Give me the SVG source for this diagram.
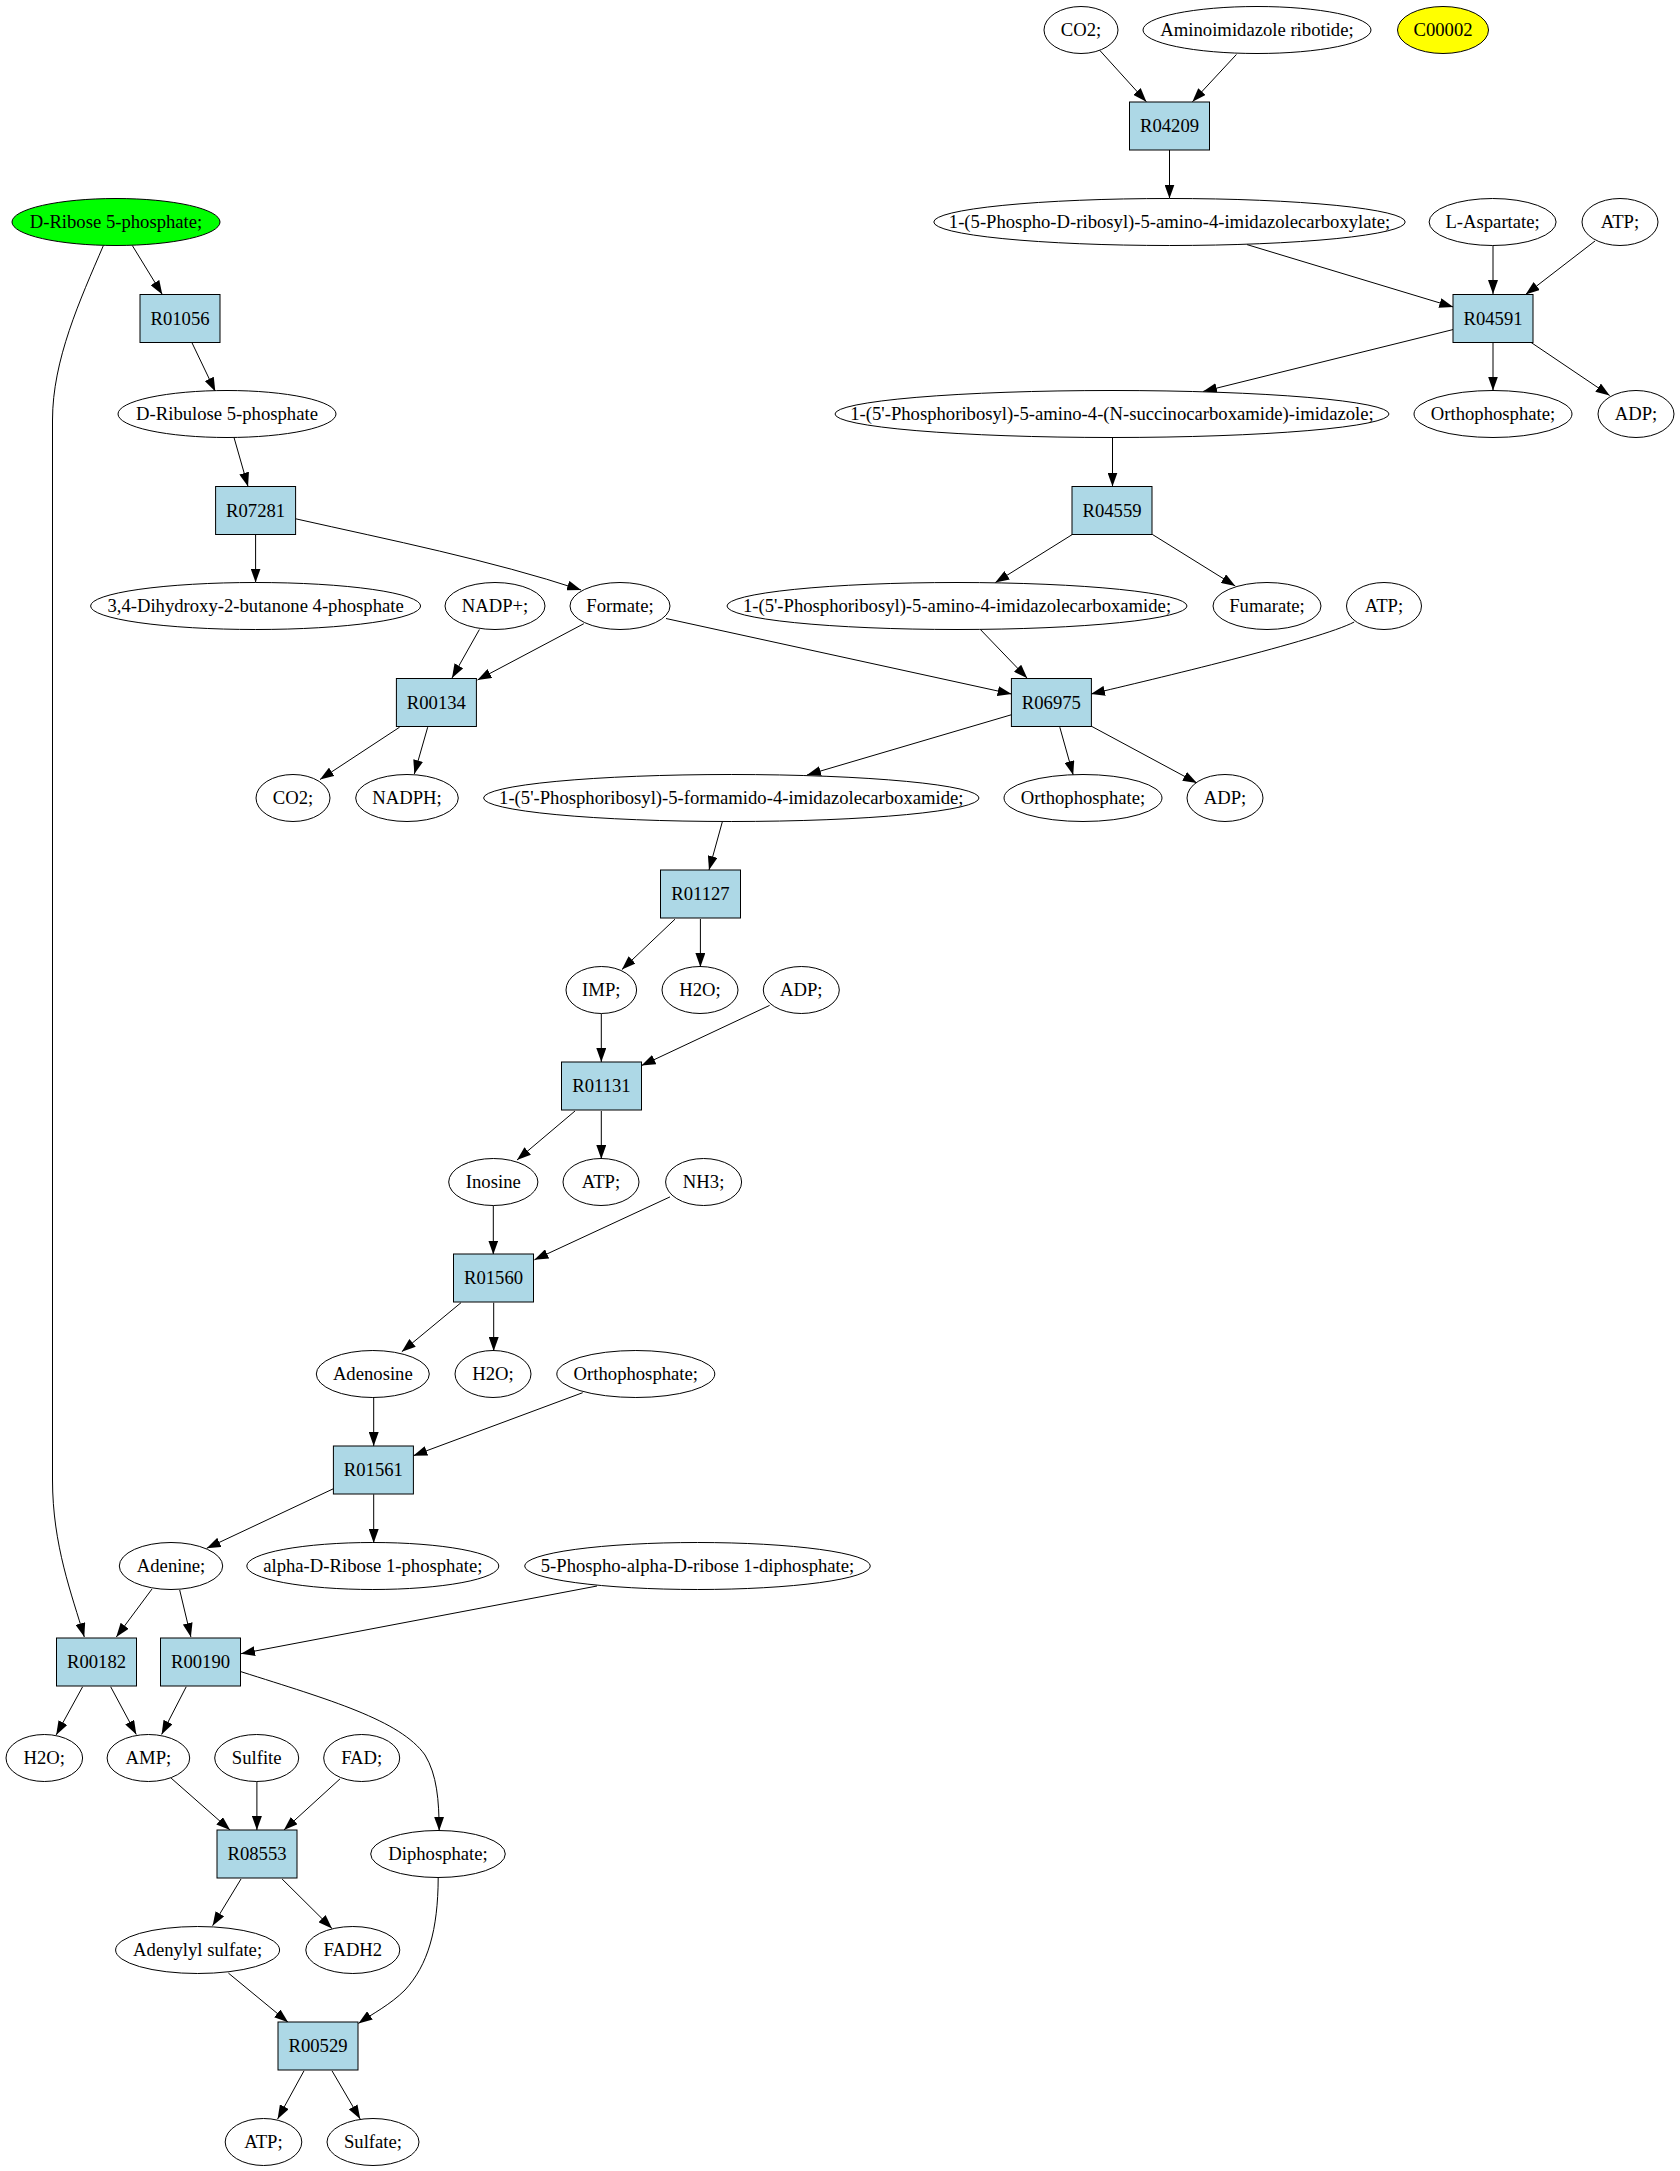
<svg xmlns="http://www.w3.org/2000/svg" width="1680" height="2171" viewBox="0 0 1680 2171">
<style>
.e{fill:#fff;stroke:#000;stroke-width:1}
.r{fill:#add8e6;stroke:#000;stroke-width:1}
.g{fill:#00ff00;stroke:#000;stroke-width:1}
.y{fill:#ffff00;stroke:#000;stroke-width:1}
text{font-family:"Liberation Serif","Times New Roman",serif;font-size:18.67px;text-anchor:middle;fill:#000}
#edges path{fill:none;stroke:#000;stroke-width:1;marker-end:url(#ah)}
</style>
<defs>
<marker id="ah" markerUnits="userSpaceOnUse" markerWidth="14" markerHeight="10" viewBox="0 0 14 10" refX="14" refY="5" orient="auto"><path d="M0,0 L14,5 L0,10 z" fill="#000"/></marker>
</defs>
<rect width="1680" height="2171" fill="#fff"/>
<g id="edges">
<path d="M1099.8,50.4 L1146.4,101.8"/>
<path d="M1236.4,54.5 L1192.4,101.8"/>
<path d="M1169.5,150 L1169.5,198.5"/>
<path d="M1247,244.6 L1453.3,307"/>
<path d="M1493,245.5 L1493,294"/>
<path d="M1595,241 L1525.6,294.5"/>
<path d="M1453.3,329.5 L1203,391.5"/>
<path d="M1493,342 L1493,390.5"/>
<path d="M1531,342.4 L1609.7,395.5"/>
<path d="M1112.5,437.5 L1112.5,486.5"/>
<path d="M1072.5,534.4 L995.3,582.6"/>
<path d="M1152.3,534.4 L1235.3,586"/>
<path d="M132.3,245.5 L162.3,294.5"/>
<path d="M103.4,245.5 C80,300 52.5,360 52.5,420 L52.5,1480 C52.5,1545 72,1595 84.3,1637"/>
<path d="M191.8,342.4 L215.3,391.5"/>
<path d="M234,437.5 L248,486.5"/>
<path d="M255.6,534 L255.6,582.5"/>
<path d="M295.7,518.8 C390,540 490,560 581.1,590"/>
<path d="M479.4,629.5 L452,678"/>
<path d="M583.8,623.7 L477.5,680"/>
<path d="M666,618.5 L1011.6,694"/>
<path d="M980.4,629.5 L1027.3,678.3"/>
<path d="M1354.2,622 C1320,640 1150,680 1091,694"/>
<path d="M399.6,727.2 L320,779.5"/>
<path d="M427.7,727.2 L414.3,774"/>
<path d="M1011.6,714.7 L807,775"/>
<path d="M1059.8,727.2 L1073.2,775"/>
<path d="M1091,726 L1196.9,783"/>
<path d="M722.3,821.9 L709,870"/>
<path d="M675,919.2 L621.9,969.6"/>
<path d="M700.4,919 L700.4,967"/>
<path d="M601.3,1013.8 L601.3,1062"/>
<path d="M769.6,1005.4 L641.5,1065.6"/>
<path d="M575,1111 L517,1160"/>
<path d="M601.3,1111 L601.3,1159"/>
<path d="M493.3,1205.8 L493.3,1254.5"/>
<path d="M670,1196.9 L534.4,1259.8"/>
<path d="M461,1302.7 L401.8,1351.7"/>
<path d="M493.7,1302.7 L493.7,1351"/>
<path d="M373.7,1397.7 L373.7,1446"/>
<path d="M582.7,1392.7 L413.3,1455.7"/>
<path d="M333.5,1488.7 L206.7,1548.3"/>
<path d="M373.7,1494.3 L373.7,1543"/>
<path d="M152,1589 L116.3,1637"/>
<path d="M179.7,1590 L190.9,1637"/>
<path d="M597,1586 L241,1653.7"/>
<path d="M82.6,1686.8 L56.2,1734.9"/>
<path d="M110.7,1686.8 L136.3,1734.5"/>
<path d="M186.2,1686.8 L161.6,1734.5"/>
<path d="M241,1671.7 C330,1700 400,1720 425,1755 C437,1775 439,1800 439.2,1830.8"/>
<path d="M171.1,1778.1 L230.1,1830.1"/>
<path d="M256.9,1781.6 L256.9,1830"/>
<path d="M340.1,1778.8 L283.9,1830.1"/>
<path d="M241,1879 L212.6,1925.7"/>
<path d="M282.1,1879 L332,1928.5"/>
<path d="M228.4,1973.1 L288.1,2022.3"/>
<path d="M438.2,1877.6 C438,1930 428,1965 405,1990 C390,2005 372,2014 358.4,2023.4"/>
<path d="M304,2070.8 L277.6,2119"/>
<path d="M332,2070.8 L360.2,2119"/>
</g>
<g id="n_co2_top"><ellipse class="e" cx="1081" cy="30" rx="37" ry="23.5"/><text x="1081" y="36">CO2;</text></g>
<g id="n_air"><ellipse class="e" cx="1257" cy="30" rx="114" ry="23.5"/><text x="1257" y="36">Aminoimidazole ribotide;</text></g>
<g id="n_c00002"><ellipse class="y" cx="1443" cy="30" rx="45.5" ry="23.5"/><text x="1443" y="36">C00002</text></g>
<g id="n_R04209"><rect class="r" x="1129.5" y="102" width="80" height="48"/><text x="1169.5" y="132">R04209</text></g>
<g id="n_dribose5p"><ellipse class="g" cx="116" cy="222" rx="104" ry="23.5"/><text x="116" y="228">D-Ribose 5-phosphate;</text></g>
<g id="n_carboxylate"><ellipse class="e" cx="1169.5" cy="222" rx="235.7" ry="23.5"/><text x="1169.5" y="228">1-(5-Phospho-D-ribosyl)-5-amino-4-imidazolecarboxylate;</text></g>
<g id="n_laspartate"><ellipse class="e" cx="1492.6" cy="222" rx="63.5" ry="23.5"/><text x="1492.6" y="228">L-Aspartate;</text></g>
<g id="n_atp_a"><ellipse class="e" cx="1620" cy="222" rx="38" ry="23.5"/><text x="1620" y="228">ATP;</text></g>
<g id="n_R01056"><rect class="r" x="140" y="294.5" width="80" height="48"/><text x="180" y="324.5">R01056</text></g>
<g id="n_R04591"><rect class="r" x="1453" y="294.5" width="80" height="48"/><text x="1493" y="324.5">R04591</text></g>
<g id="n_dribulose"><ellipse class="e" cx="227" cy="414" rx="109" ry="23.5"/><text x="227" y="420">D-Ribulose 5-phosphate</text></g>
<g id="n_saicar"><ellipse class="e" cx="1112" cy="414" rx="277" ry="23.5"/><text x="1112" y="420">1-(5'-Phosphoribosyl)-5-amino-4-(N-succinocarboxamide)-imidazole;</text></g>
<g id="n_pi_a"><ellipse class="e" cx="1493" cy="414" rx="79" ry="23.5"/><text x="1493" y="420">Orthophosphate;</text></g>
<g id="n_adp_a"><ellipse class="e" cx="1636" cy="414" rx="38" ry="23.5"/><text x="1636" y="420">ADP;</text></g>
<g id="n_R07281"><rect class="r" x="215.6" y="486.5" width="80" height="48"/><text x="255.6" y="516.5">R07281</text></g>
<g id="n_R04559"><rect class="r" x="1072" y="486.5" width="80" height="48"/><text x="1112" y="516.5">R04559</text></g>
<g id="n_dhbp"><ellipse class="e" cx="255.6" cy="606" rx="165" ry="23.5"/><text x="255.6" y="612">3,4-Dihydroxy-2-butanone 4-phosphate</text></g>
<g id="n_nadp"><ellipse class="e" cx="495" cy="606" rx="50" ry="23.5"/><text x="495" y="612">NADP+;</text></g>
<g id="n_formate"><ellipse class="e" cx="620" cy="606" rx="50" ry="23.5"/><text x="620" y="612">Formate;</text></g>
<g id="n_aicar"><ellipse class="e" cx="957" cy="606" rx="230" ry="23.5"/><text x="957" y="612">1-(5'-Phosphoribosyl)-5-amino-4-imidazolecarboxamide;</text></g>
<g id="n_fumarate"><ellipse class="e" cx="1267" cy="606" rx="54" ry="23.5"/><text x="1267" y="612">Fumarate;</text></g>
<g id="n_atp_b"><ellipse class="e" cx="1384" cy="606" rx="37.5" ry="23.5"/><text x="1384" y="612">ATP;</text></g>
<g id="n_R00134"><rect class="r" x="396.4" y="678.5" width="80" height="48"/><text x="436.4" y="708.5">R00134</text></g>
<g id="n_R06975"><rect class="r" x="1011.4" y="678.5" width="80" height="48"/><text x="1051.4" y="708.5">R06975</text></g>
<g id="n_co2_b"><ellipse class="e" cx="293" cy="798" rx="37" ry="23.5"/><text x="293" y="804">CO2;</text></g>
<g id="n_nadph"><ellipse class="e" cx="407" cy="798" rx="51.3" ry="23.5"/><text x="407" y="804">NADPH;</text></g>
<g id="n_faicar"><ellipse class="e" cx="731.3" cy="798" rx="247.7" ry="23.5"/><text x="731.3" y="804">1-(5'-Phosphoribosyl)-5-formamido-4-imidazolecarboxamide;</text></g>
<g id="n_pi_b"><ellipse class="e" cx="1083" cy="798" rx="79" ry="23.5"/><text x="1083" y="804">Orthophosphate;</text></g>
<g id="n_adp_b"><ellipse class="e" cx="1225" cy="798" rx="38" ry="23.5"/><text x="1225" y="804">ADP;</text></g>
<g id="n_R01127"><rect class="r" x="660.5" y="870" width="80" height="48"/><text x="700.5" y="900">R01127</text></g>
<g id="n_imp"><ellipse class="e" cx="601.3" cy="990" rx="35.3" ry="23.5"/><text x="601.3" y="996">IMP;</text></g>
<g id="n_h2o_a"><ellipse class="e" cx="700" cy="990" rx="38" ry="23.5"/><text x="700" y="996">H2O;</text></g>
<g id="n_adp_c"><ellipse class="e" cx="801.3" cy="990" rx="38" ry="23.5"/><text x="801.3" y="996">ADP;</text></g>
<g id="n_R01131"><rect class="r" x="561.5" y="1062" width="80" height="48"/><text x="601.5" y="1092">R01131</text></g>
<g id="n_inosine"><ellipse class="e" cx="493.3" cy="1182" rx="44.6" ry="23.5"/><text x="493.3" y="1188">Inosine</text></g>
<g id="n_atp_c"><ellipse class="e" cx="601" cy="1182" rx="38" ry="23.5"/><text x="601" y="1188">ATP;</text></g>
<g id="n_nh3"><ellipse class="e" cx="703.6" cy="1182" rx="38" ry="23.5"/><text x="703.6" y="1188">NH3;</text></g>
<g id="n_R01560"><rect class="r" x="453.5" y="1254" width="80" height="48"/><text x="493.5" y="1284">R01560</text></g>
<g id="n_adenosine"><ellipse class="e" cx="372.8" cy="1374" rx="56.5" ry="23.5"/><text x="372.8" y="1380">Adenosine</text></g>
<g id="n_h2o_b"><ellipse class="e" cx="493" cy="1374" rx="38" ry="23.5"/><text x="493" y="1380">H2O;</text></g>
<g id="n_pi_c"><ellipse class="e" cx="635.8" cy="1374" rx="79" ry="23.5"/><text x="635.8" y="1380">Orthophosphate;</text></g>
<g id="n_R01561"><rect class="r" x="333.4" y="1446" width="80" height="48"/><text x="373.4" y="1476">R01561</text></g>
<g id="n_adenine"><ellipse class="e" cx="171" cy="1566" rx="51.7" ry="23.5"/><text x="171" y="1572">Adenine;</text></g>
<g id="n_r1p"><ellipse class="e" cx="372.8" cy="1566" rx="126" ry="23.5"/><text x="372.8" y="1572">alpha-D-Ribose 1-phosphate;</text></g>
<g id="n_prpp"><ellipse class="e" cx="697.5" cy="1566" rx="172.8" ry="23.5"/><text x="697.5" y="1572">5-Phospho-alpha-D-ribose 1-diphosphate;</text></g>
<g id="n_R00182"><rect class="r" x="56.5" y="1638" width="80" height="48"/><text x="96.5" y="1668">R00182</text></g>
<g id="n_R00190"><rect class="r" x="160.5" y="1638" width="80" height="48"/><text x="200.5" y="1668">R00190</text></g>
<g id="n_h2o_c"><ellipse class="e" cx="44.3" cy="1758" rx="38.3" ry="23.5"/><text x="44.3" y="1764">H2O;</text></g>
<g id="n_amp"><ellipse class="e" cx="148.4" cy="1758" rx="41.3" ry="23.5"/><text x="148.4" y="1764">AMP;</text></g>
<g id="n_sulfite"><ellipse class="e" cx="256.7" cy="1758" rx="42" ry="23.5"/><text x="256.7" y="1764">Sulfite</text></g>
<g id="n_fad"><ellipse class="e" cx="361.7" cy="1758" rx="38" ry="23.5"/><text x="361.7" y="1764">FAD;</text></g>
<g id="n_R08553"><rect class="r" x="217" y="1830" width="80" height="48"/><text x="257" y="1860">R08553</text></g>
<g id="n_diphosphate"><ellipse class="e" cx="438" cy="1854" rx="67.3" ry="23.5"/><text x="438" y="1860">Diphosphate;</text></g>
<g id="n_aps"><ellipse class="e" cx="197.6" cy="1950" rx="82" ry="23.5"/><text x="197.6" y="1956">Adenylyl sulfate;</text></g>
<g id="n_fadh2"><ellipse class="e" cx="352.8" cy="1950" rx="47" ry="23.5"/><text x="352.8" y="1956">FADH2</text></g>
<g id="n_R00529"><rect class="r" x="278" y="2022" width="80" height="48"/><text x="318" y="2052">R00529</text></g>
<g id="n_atp_d"><ellipse class="e" cx="263.5" cy="2142" rx="38.3" ry="23.5"/><text x="263.5" y="2148">ATP;</text></g>
<g id="n_sulfate"><ellipse class="e" cx="373" cy="2142" rx="46" ry="23.5"/><text x="373" y="2148">Sulfate;</text></g>
</svg>
